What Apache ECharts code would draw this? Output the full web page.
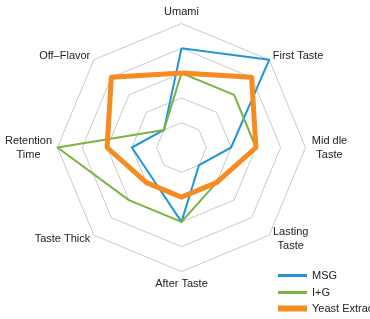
<!DOCTYPE html>
<html>
<head>
<meta charset="utf-8">
<script src="https://cdn.jsdelivr.net/npm/echarts@6/dist/echarts.min.js"></script>
<style>
  html, body { margin: 0; padding: 0; background: #fff; }
  #main { width: 370px; height: 319px; }
</style>
</head>
<body>
<div id="main"></div>
<script>
// axes, clockwise from the top
var categories = ['Umami', 'First Taste', 'Mid dle\nTaste', 'Lasting\nTaste', 'After Taste', 'Taste Thick', 'Retention\nTime', 'Off\u2013Flavor']
var maxValue = 5

var msg = [4, 5, 2, 1, 3, 1.7, 2, 1]
var ig = [3, 3, 3, 2, 3, 3, 5, 1]
var yeast = [3, 4, 3, 2, 2, 2, 3, 4]

var seriesNames = ['MSG', 'I+G', 'Yeast Extract']
var colors = ['#2196d6', '#7cb33e', '#f68b1f']
var widths = [2, 2, 5]

// echarts goes counter-clockwise, so flip the order after the first axis
function ccw(arr) {
  return [arr[0]].concat(arr.slice(1).reverse())
}

// two-line names are centred on each other, like the original
var boxWidth = { 'Mid dle\nTaste': 38, 'Lasting\nTaste': 36, 'Retention\nTime': 48 }
function nameFormatter(name) {
  if (name.indexOf('\n') < 0) return name
  var key = name.charAt(0)
  return name.split('\n').map(function (s) {
    return '{' + key + '|' + s + '}'
  }).join('\n')
}
var rich = {}
Object.keys(boxWidth).forEach(function (n) {
  rich[n.charAt(0)] = {
    width: boxWidth[n],
    align: 'center',
    color: '#222',
    fontFamily: 'Liberation Sans',
    fontSize: 11,
    lineHeight: 14,
  }
})

var myChart = echarts.init(document.getElementById('main'))

var legendTops = [265, 282, 298]
var legends = seriesNames.map(function (name, i) {
  return {
    orient: 'vertical',
    left: 273,
    top: legendTops[i],
    itemWidth: 29,
    itemHeight: widths[i] + 1,
    itemGap: 0,
    icon: 'rect',
    data: [name],
    textStyle: { fontFamily: 'Liberation Sans', fontSize: 11, color: '#222' },
  }
})

myChart.setOption({
  animation: false,
  color: colors,
  legend: legends,
  radar: {
    center: [181.5, 147.5],
    radius: 124,
    shape: 'polygon',
    splitNumber: 5,
    startAngle: 90,
    nameGap: 5,
    axisName: {
      color: '#222',
      fontFamily: 'Liberation Sans',
      fontSize: 11,
      lineHeight: 14,
      formatter: nameFormatter,
      rich: rich,
    },
    indicator: ccw(categories).map(function (c) {
      return { name: c, max: maxValue, min: 0 }
    }),
    splitLine: { lineStyle: { color: '#c8c8c8', width: 1 } },
    splitArea: { show: false },
    axisLine: { show: false },
  },
  series: [
    {
      type: 'radar',
      symbol: 'none',
      data: [msg, ig, yeast].map(function (d, i) {
        return {
          name: seriesNames[i],
          value: ccw(d),
          lineStyle: { color: colors[i], width: widths[i] },
          itemStyle: { color: colors[i] },
        }
      }),
    },
  ],
})
</script>
</body>
</html>
